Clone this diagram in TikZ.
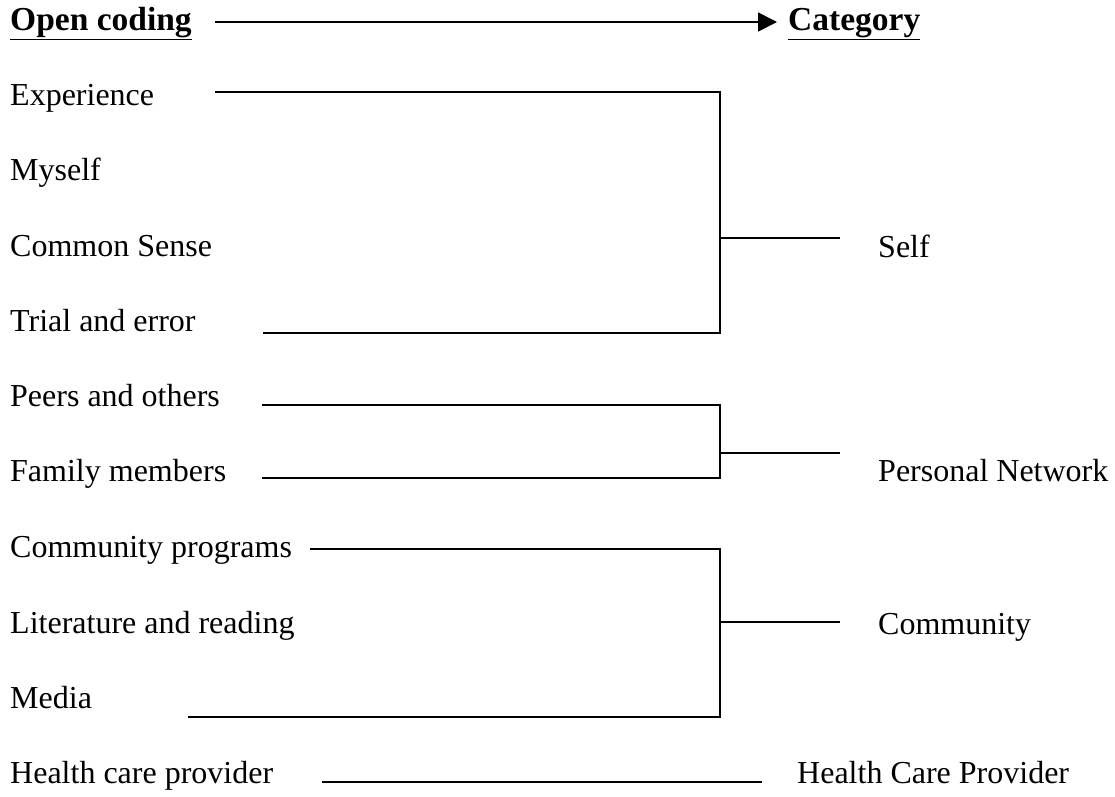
\documentclass[tikz,border=0pt]{standalone}
\usepackage{fontspec}
\setmainfont{Liberation Serif}
\usetikzlibrary{positioning,arrows.meta}

\begin{document}
\begin{tikzpicture}[x=1pt, y=-1pt,
  code/.style={anchor=base west, inner sep=0pt, font=\fontsize{32}{38}\selectfont},
  head/.style={code, font=\fontsize{33.5}{40}\selectfont\bfseries},
  link/.style={line width=1.8pt}]
  \useasboundingbox (0,0) rectangle (1115,796);

  % Header
  \node[head] (open) at (10,30) {\underline{Open coding}};
  \node[head] (cat) at (788,30) {\underline{Category}};
  \coordinate (hs) at (215,22);
  \coordinate (he) at (777,22);
  \draw[link, -{Triangle[length=19pt, width=19pt]}] (hs) -- (he);

  % Open codes
  \node[code] (exp)   at (10,105) {Experience};
  \node[code] (my)    at (10,180) {Myself};
  \node[code] (cs)    at (10,256) {Common Sense};
  \node[code] (trial) at (10,331) {Trial and error};
  \node[code] (peer)  at (10,406) {Peers and others};
  \node[code] (fam)   at (10,481) {Family members};
  \node[code] (prog)  at (10,557) {Community programs};
  \node[code] (lit)   at (10,633) {Literature and reading};
  \node[code] (med)   at (10,708) {Media};
  \node[code] (hcp)   at (10,783) {Health care provider};

  % Categories
  \node[code] (self) at (878,257) {Self};
  \node[code] (pnet) at (878,481) {Personal Network};
  \node[code] (comm) at (878,634) {Community};
  \node[code] (hcpc) at (797,783) {Health Care Provider};

  % Line ends
  \coordinate (exp-s)   at (215,92);
  \coordinate (trial-s) at (263,333);
  \coordinate (self-j)  at (720,238);
  \coordinate (self-e)  at (840,238);

  \coordinate (peer-s)  at (262,405);
  \coordinate (fam-s)   at (262,478);
  \coordinate (pnet-j)  at (720,453);
  \coordinate (pnet-e)  at (840,453);

  \coordinate (prog-s)  at (310,549);
  \coordinate (med-s)   at (188,717);
  \coordinate (comm-j)  at (720,622);
  \coordinate (comm-e)  at (840,622);

  \coordinate (hcp-s)   at (322,782);
  \coordinate (hcp-e)   at (762,782);

  % Brackets
  \draw[link] (exp-s) -| (self-j) |- (trial-s);
  \draw[link] (self-j) -- (self-e);

  \draw[link] (peer-s) -| (pnet-j) |- (fam-s);
  \draw[link] (pnet-j) -- (pnet-e);

  \draw[link] (prog-s) -| (comm-j) |- (med-s);
  \draw[link] (comm-j) -- (comm-e);

  \draw[link] (hcp-s) -- (hcp-e);
\end{tikzpicture}
\end{document}
